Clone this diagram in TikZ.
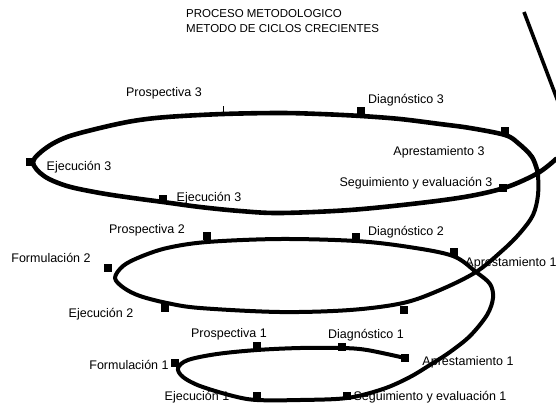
\documentclass[tikz,border=0pt]{standalone}
\usepackage{fontspec}
\setmainfont{Liberation Sans}
\begin{document}
\begin{tikzpicture}[x=1pt,y=-1pt]
\tikzset{
  sq/.style={fill=black, minimum size=8.5pt, inner sep=0pt, outer sep=0pt},
  lbl/.style={font=\fontsize{12.5}{14}\selectfont, inner sep=0pt},
  ttl/.style={font=\fontsize{11.5}{13}\selectfont, inner sep=0pt, anchor=west},
  curve/.style={line width=4.6pt, line cap=round, line join=round},
  thincurve/.style={line width=4pt, line cap=round, line join=round},
}
\useasboundingbox (0,0) rectangle (556,407);
\clip (0,0) rectangle (556,407);
\fill[white] (0,0) rectangle (556,407);

% title
\node[ttl] (t1) at (186,14) {PROCESO METODOLOGICO};
\node[ttl] (t2) at (186,29) {METODO DE CICLOS CRECIENTES};

% top ellipse (cycle 3)
\draw[curve] plot[smooth, tension=0.55] coordinates {
 (538,173) (532,157) (518,143) (505,135) (470,128) (440,124) (400,119)
 (361,116) (320,114) (280,113) (223,114) (167,117) (133,121) (100,128)
 (67,137) (46,148) (33,162) (44,176) (67,186) (100,193) (133,198)
 (163,202) (200,207) (240,211) (280,213) (350,210) (420,203) (470,196)
 (507,187) (538,173) (556,159)};

% spiral down through cycle 2 to cycle 1
\draw[thincurve] plot[smooth, tension=0.55] coordinates {
 (538,173) (538,195) (533,215) (520,233) (503,250) (476,272)
 (440,290) (403,303) (350,310) (280,312) (200,308) (167,303)
 (140,296) (124,288) (115,278) (123,266) (140,257) (167,248)
 (207,242) (280,239) (356,241) (409,247) (453,256) (476,272)
 (490,284) (493,298) (487,315) (470,336) (450,352) (433,363)
 (410,377) (383,389) (347,398) (300,400) (257,400) (233,396)
 (200,386) (183,377) (178,368) (188,360) (217,354) (257,350)
 (300,348) (342,348) (367,350) (405,358)};

% straight line from the top right
\draw[line width=3.6pt] (524,12) -- (562,112);

% tick at Prospectiva 3
\draw[line width=1pt] (223,106) -- (223,114);

% squares, cycle 3
\node[sq] (s3a) at (30,162) {};
\node[sq] (s3b) at (163,199) {};
\node[sq] (s3c) at (361,111) {};
\node[sq] (s3d) at (505,131) {};
\node[sq] (s3e) at (503,188) {};
% squares, cycle 2
\node[sq] (s2a) at (108,268) {};
\node[sq] (s2b) at (207,236) {};
\node[sq] (s2c) at (356,237) {};
\node[sq] (s2d) at (454,252) {};
\node[sq] (s2e) at (165,308) {};
\node[sq] (s2f) at (404,310) {};
% squares, cycle 1
\node[sq] (s1a) at (175,363) {};
\node[sq] (s1b) at (257,346) {};
\node[sq] (s1c) at (342,347) {};
\node[sq] (s1d) at (405,358) {};
\node[sq] (s1e) at (257,396) {};
\node[sq] (s1f) at (347,396) {};

% labels, cycle 3
\node[lbl] (l3a) at (164,93) {Prospectiva 3};
\node[lbl] (l3b) at (406,100) {Diagnóstico 3};
\node[lbl] (l3c) at (439,152) {Aprestamiento 3};
\node[lbl] (l3d) at (79,167) {Ejecución 3};
\node[lbl] (l3e) at (209,198) {Ejecución 3};
\node[lbl] (l3f) at (416,183) {Seguimiento y evaluación 3};
% labels, cycle 2
\node[lbl] (l2a) at (147,230) {Prospectiva 2};
\node[lbl] (l2b) at (406,232) {Diagnóstico 2};
\node[lbl] (l2c) at (51,258) {Formulación 2};
\node[lbl] (l2d) at (511,263) {Aprestamiento 1};
\node[lbl] (l2e) at (101,314) {Ejecución 2};
% labels, cycle 1
\node[lbl] (l1a) at (229,334) {Prospectiva 1};
\node[lbl] (l1b) at (366,335) {Diagnóstico 1};
\node[lbl] (l1c) at (129,365) {Formulación 1};
\node[lbl] (l1d) at (468,362) {Aprestamiento 1};
\node[lbl] (l1e) at (197,397) {Ejecución 1};
\node[lbl] (l1f) at (430,397) {Seguimiento y evaluación 1};
\end{tikzpicture}
\end{document}
